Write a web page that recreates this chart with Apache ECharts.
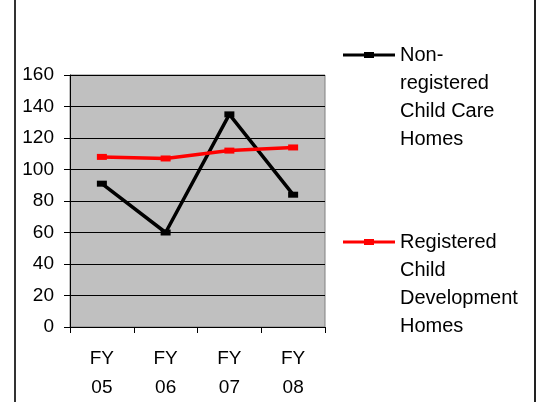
<!DOCTYPE html>
<html>
<head>
<meta charset="utf-8">
<script src="https://cdn.jsdelivr.net/npm/echarts@6/dist/echarts.min.js"></script>
<style>
  html, body { margin: 0; padding: 0; background: #fff; }
  .wrap { position: relative; width: 541px; height: 402px; }
  .frame {
    position: absolute; left: 14px; top: 0; width: 518px; height: 402px;
    border-left: 2px solid #333; border-right: 2px solid #222;
  }
  #chart { position: absolute; left: 0; top: 0; width: 541px; height: 402px; }
</style>
</head>
<body>
<div class="wrap">
  <div class="frame"></div>
  <div id="chart"></div>
</div>
<script>
// fiscal years on the x axis
const categories = ['FY\n05', 'FY\n06', 'FY\n07', 'FY\n08']
const nonRegistered = [91, 60, 135, 84]
const registered = [108, 107, 112, 114]
const yTicks = { min: 0, max: 160, interval: 20 }

const nameNonReg = 'Non-registered Child Care Homes'
const nameReg = 'Registered Child Development Homes'
const legendLabels = {}
legendLabels[nameNonReg] = ['Non-', 'registered', 'Child Care', 'Homes']
legendLabels[nameReg] = ['Registered', 'Child', 'Development', 'Homes']

const font = 'Liberation Sans, Arial, sans-serif'

const myChart = echarts.init(document.getElementById('chart'))

// three blank lines in front so the first text line sits level with the icon
function makeLegend(name, top) {
  return {
    data: [name],
    orient: 'vertical',
    left: 343,
    top: top,
    itemWidth: 52,
    itemHeight: 6,
    padding: 0,
    icon: 'path://M0,1.5H52V4.5H0Z M21,0H31V6H21Z',
    formatter: n => '\n\n\n' + legendLabels[n].join('\n'),
    textStyle: {
      fontFamily: font,
      fontSize: 20,
      lineHeight: 28,
      color: '#000'
    }
  }
}

const options = {
  animation: false,
  legend: [makeLegend(nameNonReg, -43), makeLegend(nameReg, 144)],
  grid: {
    left: 70,
    top: 75,
    right: 216,
    bottom: 75,
    show: true,
    backgroundColor: '#c0c0c0',
    borderColor: '#808080',
    borderWidth: 1
  },
  xAxis: {
    type: 'category',
    data: categories,
    boundaryGap: true,
    axisLine: { lineStyle: { color: '#000', width: 1 } },
    axisTick: { show: true, length: 6, lineStyle: { color: '#000' } },
    axisLabel: {
      color: '#000',
      fontFamily: font,
      fontSize: 19,
      lineHeight: 29,
      margin: 17
    }
  },
  yAxis: {
    type: 'value',
    min: yTicks.min,
    max: yTicks.max,
    interval: yTicks.interval,
    axisLine: { show: true, lineStyle: { color: '#000', width: 1 } },
    axisTick: { show: true, length: 6, lineStyle: { color: '#000' } },
    splitLine: { lineStyle: { color: '#000', width: 1 } },
    axisLabel: {
      color: '#000',
      fontFamily: font,
      fontSize: 19,
      margin: 16
    }
  },
  series: [
    {
      name: nameNonReg,
      type: 'line',
      data: nonRegistered,
      symbol: 'rect',
      symbolSize: [10, 6],
      lineStyle: { color: '#000', width: 3.5 },
      itemStyle: { color: '#000' }
    },
    {
      name: nameReg,
      type: 'line',
      data: registered,
      symbol: 'rect',
      symbolSize: [10, 6],
      lineStyle: { color: '#ff0000', width: 3.5 },
      itemStyle: { color: '#ff0000' }
    }
  ]
}
myChart.setOption(options)
</script>
</body>
</html>
